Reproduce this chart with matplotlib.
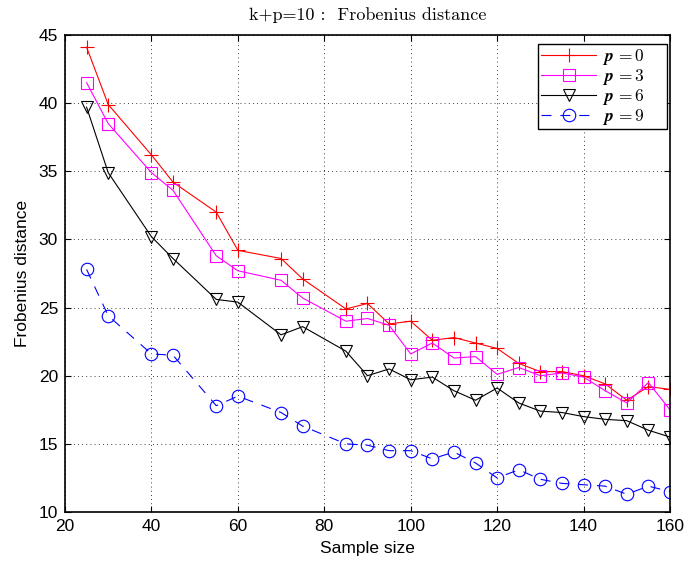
import matplotlib
matplotlib.use("Agg")
import matplotlib.pyplot as plt

plt.rcParams['font.family'] = ['Liberation Sans', 'DejaVu Sans']
plt.rcParams['mathtext.fontset'] = 'cm'

sample_size = [25, 30, 40, 45, 55, 60, 70, 75, 85, 90, 95, 100,
               105, 110, 115, 120, 125, 130, 135, 140, 145, 150, 155, 160]

dist_p0 = [44.1, 39.9, 36.2, 34.2, 32.0, 29.2, 28.6, 27.1, 24.9, 25.3, 23.8, 24.0,
           22.6, 22.8, 22.4, 22.0, 20.9, 20.3, 20.3, 20.0, 19.4, 18.2, 19.2, 19.0]
dist_p3 = [41.5, 38.5, 34.9, 33.6, 28.8, 27.7, 27.0, 25.7, 24.0, 24.2, 23.7, 21.6,
           22.4, 21.3, 21.4, 20.1, 20.6, 20.0, 20.2, 19.9, 18.9, 18.0, 19.5, 17.5]
dist_p6 = [39.7, 34.9, 30.2, 28.6, 25.6, 25.4, 23.0, 23.6, 21.8, 20.0, 20.5, 19.7,
           19.9, 18.9, 18.2, 19.1, 18.0, 17.4, 17.3, 17.0, 16.8, 16.7, 16.0, 15.5]
dist_p9 = [27.8, 24.4, 21.6, 21.5, 17.8, 18.5, 17.3, 16.3, 15.0, 14.9, 14.5, 14.5,
           13.9, 14.4, 13.6, 12.5, 13.1, 12.4, 12.1, 12.0, 11.9, 11.3, 11.9, 11.5]

fig = plt.figure(figsize=(6.91, 5.66), dpi=100)
ax = fig.add_axes([65 / 691, 1 - 512 / 566, 605 / 691, 477 / 566])

pad = '     '  # trailing room inside the legend box, like the original
ax.plot(sample_size, dist_p0, color='red', marker='+', ms=10, mew=0.8, lw=0.8,
        label=r'$\mathbfit{p}\,\mathbf{=0}$' + pad)
ax.plot(sample_size, dist_p3, color='magenta', marker='s', ms=8, mfc='none', mew=0.8, lw=0.8,
        label=r'$\mathbfit{p}\,\mathbf{=3}$' + pad)
ax.plot(sample_size, dist_p6, color='black', marker='v', ms=9, mfc='none', mew=0.8, lw=0.8,
        label=r'$\mathbfit{p}\,\mathbf{=6}$' + pad)
ax.plot(sample_size, dist_p9, color='blue', marker='o', ms=9, mfc='none', mew=0.8, lw=0.8,
        ls=(0, (9, 8)), label=r'$\mathbfit{p}\,\mathbf{=9}$' + pad)

ax.set_xlim(20, 160)
ax.set_ylim(10, 45)
ax.set_xticks(range(20, 161, 20))
ax.set_yticks(range(10, 46, 5))
ax.grid(True, color='black', ls=(0, (1, 4)), lw=0.6)
ax.tick_params(direction='in', top=True, right=True, length=4, labelsize=12.5, pad=5)
for s in ax.spines.values():
    s.set_linewidth(1.2)

ax.set_xlabel('Sample size', fontsize=12.5, labelpad=5)
ax.set_ylabel('Frobenius distance', fontsize=12.5, labelpad=6)
ax.set_title('k+p=10 :  Frobenius distance', fontfamily='cmr10', fontsize=13, pad=11)

leg = ax.legend(loc='upper right', bbox_to_anchor=(667 / 691, 1 - 44 / 566),
                bbox_transform=fig.transFigure, borderaxespad=0,
                fontsize=12.5, fancybox=False, edgecolor='black',
                framealpha=1, handlelength=3.2, borderpad=0.15, labelspacing=0.0,
                handletextpad=0.3)
leg.get_frame().set_linewidth(1.0)

fig.savefig('out.png', dpi=100)
